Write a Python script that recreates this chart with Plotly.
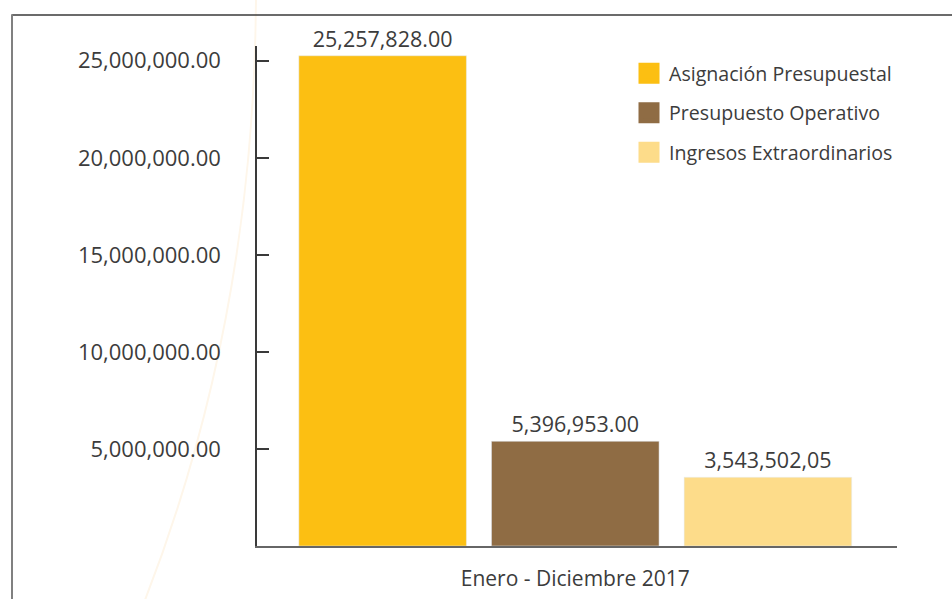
import plotly.graph_objects as go

categories = ["Enero - Diciembre 2017"]
series_names = ["Asignación Presupuestal", "Presupuesto Operativo", "Ingresos Extraordinarios"]
series_values = [25257828.00, 5396953.00, 3543502.05]
value_labels = ["25,257,828.00", "5,396,953.00", "3,543,502,05"]
colors = ["#FCBF12", "#8F6C44", "#FDDC8A"]
y_ticks = [5000000, 10000000, 15000000, 20000000, 25000000]

FONT = "Open Sans"
TXT = "#3c3c3c"

fig = go.Figure()
for name, val, lab, col in zip(series_names, series_values, value_labels, colors):
    fig.add_trace(go.Bar(
        x=categories, y=[val], name=name, marker_color=col,
        text=[lab], textposition="outside", cliponaxis=False,
        textfont=dict(family=FONT, size=21.5, color=TXT),
        showlegend=False, hoverinfo="skip",
    ))
for i, (name, col) in enumerate(zip(series_names, colors)):
    fig.add_trace(go.Scatter(
        x=[None], y=[None], mode="markers", name=name,
        marker=dict(symbol="square", size=16, color=col,
                    line=dict(color=col, width=5)),
        legendgroup=f"g{i}", showlegend=True,
    ))

W, H = 952, 599
L, R, T, B = 257, 55, 46, 53
pw, ph = W - L - R, H - T - B
def px(x): return (x - L) / pw
def py(y): return (H - B - y) / ph

fig.update_layout(
    width=W, height=H,
    margin=dict(l=L, r=R, t=T, b=B, autoexpand=False),
    paper_bgcolor="white", plot_bgcolor="white",
    barmode="group", bargap=0.097, bargroupgap=0.13,
    font=dict(family=FONT, color=TXT),
    legend=dict(x=px(629), y=py(54), xanchor="left", yanchor="top",
                font=dict(family=FONT, size=19.6, color=TXT),
                tracegroupgap=11, itemsizing="trace", bgcolor="rgba(0,0,0,0)"),
    xaxis=dict(range=[-0.4973, 0.5027], showline=True, linecolor="#666666", linewidth=1.5,
               automargin=False,
               showgrid=False, ticks="", ticklabelstandoff=13,
               tickfont=dict(family=FONT, size=21, color=TXT)),
    yaxis=dict(range=[0, 25760000], showline=True, linecolor="#3a3a3a", linewidth=1.5,
               automargin=False,
               showgrid=False, zeroline=False, ticks="inside", ticklen=12,
               tickcolor="#3a3a3a", tickwidth=1.5,
               tickvals=y_ticks, tickformat=",.2f", ticklabelstandoff=30,
               tickfont=dict(family=FONT, size=22, color=TXT)),
    shapes=[
        dict(type="path", xref="paper", yref="paper",
             path=f"M {px(256)},{py(0)} Q {px(254)},{py(320)} {px(145)},{py(600)}",
             line=dict(color="#fef6ea", width=2), layer="below"),
        dict(type="line", xref="paper", yref="paper",
             x0=px(12), y0=py(15), x1=px(960), y1=py(15),
             line=dict(color="#3a3a3a", width=1.5), layer="below"),
        dict(type="line", xref="paper", yref="paper",
             x0=px(12), y0=py(14.3), x1=px(12), y1=py(610),
             line=dict(color="#808080", width=2), layer="below"),
    ],
)

fig.write_html("out.html", config={"displayModeBar": False},
               post_script="document.body.style.margin='0';document.body.style.overflow='hidden';")
